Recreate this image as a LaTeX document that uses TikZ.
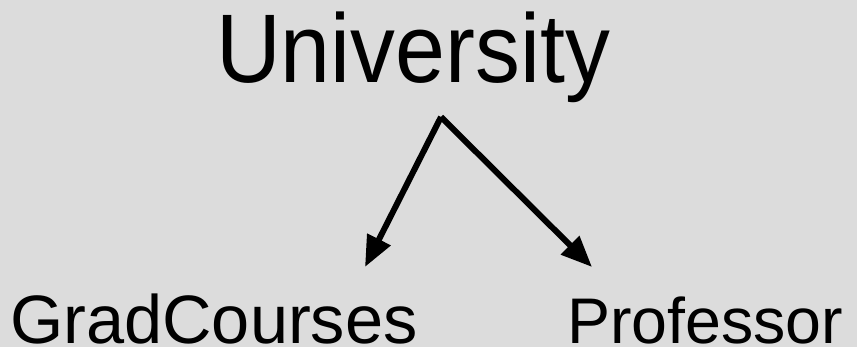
\documentclass[tikz,border=0pt]{standalone}
\usepackage{fontspec}
\setmainfont{Liberation Sans}
\newfontfamily\talltext[FakeStretch=0.92]{Liberation Sans}
\usepackage{tikz}
\usetikzlibrary{arrows.meta, positioning}
\definecolor{bggray}{HTML}{DCDCDC}
\tikzset{
	bigtext/.style={inner sep=0pt, anchor=base west, font=\talltext\fontsize{97.5}{110}\selectfont}
}
\tikzset{
	classtext/.style={inner sep=0pt, anchor=base west, font=\fontsize{#1}{80}\selectfont}
}
\tikzset{
	subarrow/.style={line width=6pt, -{Triangle[length=31pt,width=25pt]}}
}

\begin{document}
\begin{tikzpicture}[x=1pt, y=1pt]

			\fill[bggray] (0,0) rectangle (857,347);
			\useasboundingbox (0,0) rectangle (857,347);

			\node[bigtext] (univ) at (216,264) {University};
			\node[classtext=68.5] (grad) at (10,3.5) {GradCourses};
			\node[classtext=64.5] (prof) at (567,3.5) {Professor};

			\coordinate (apex) at (441,230);
			\coordinate (gradin) at (365,80);
			\coordinate (profin) at (592,80);

			\draw[subarrow] (apex) -- (gradin);
			\draw[subarrow] (apex) -- (profin);

		\end{tikzpicture}
\end{document}
